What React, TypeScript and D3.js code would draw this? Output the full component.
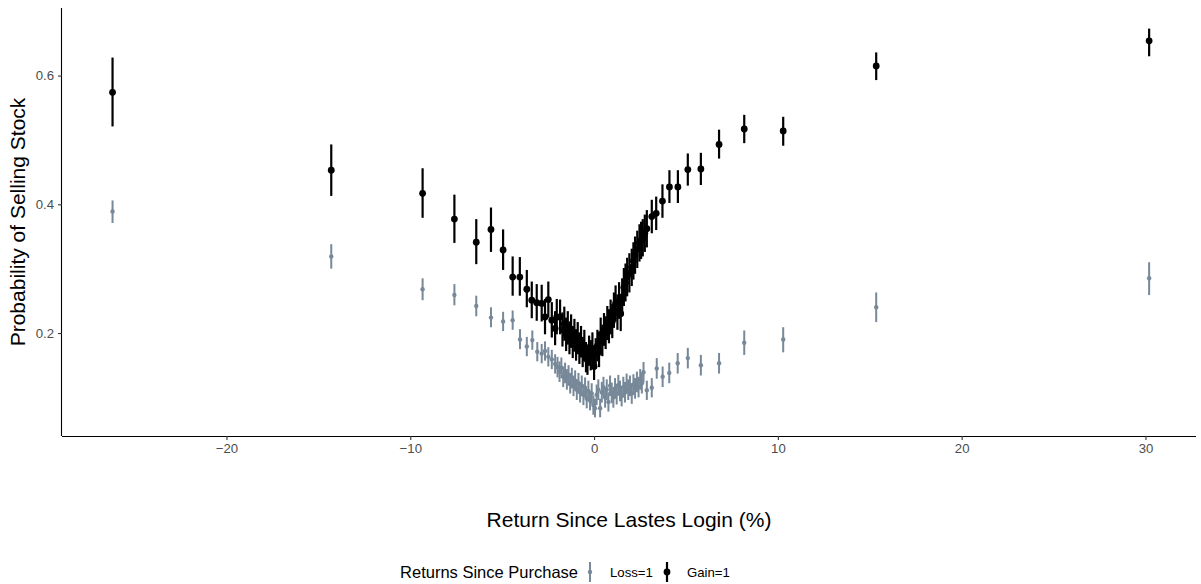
import { useEffect, useRef } from 'react';
import * as d3 from 'd3';

// each row: [return since last login (%), probability, lower, upper]
const lossRows: number[][] = [
  [-26.2, 0.389, 0.371, 0.406],
  [-14.3, 0.319, 0.300, 0.338],
  [-9.33, 0.268, 0.251, 0.285],
  [-7.60, 0.259, 0.243, 0.276],
  [-6.41, 0.242, 0.226, 0.258],
  [-5.61, 0.224, 0.209, 0.240],
  [-4.95, 0.218, 0.203, 0.233],
  [-4.43, 0.220, 0.205, 0.235],
  [-4.03, 0.190, 0.175, 0.206],
  [-3.66, 0.179, 0.164, 0.194],
  [-3.36, 0.189, 0.174, 0.204],
  [-3.09, 0.171, 0.156, 0.186],
  [-2.85, 0.168, 0.153, 0.183],
  [-2.67, 0.172, 0.157, 0.187],
  [-2.49, 0.163, 0.148, 0.178],
  [-2.30, 0.159, 0.144, 0.174],
  [-2.12, 0.152, 0.137, 0.167],
  [-1.99, 0.147, 0.131, 0.163],
  [-1.88, 0.140, 0.124, 0.156],
  [-1.78, 0.146, 0.130, 0.162],
  [-1.68, 0.132, 0.116, 0.148],
  [-1.58, 0.138, 0.122, 0.154],
  [-1.48, 0.128, 0.112, 0.144],
  [-1.39, 0.134, 0.118, 0.150],
  [-1.30, 0.122, 0.106, 0.138],
  [-1.21, 0.130, 0.114, 0.146],
  [-1.12, 0.118, 0.102, 0.134],
  [-1.03, 0.126, 0.110, 0.142],
  [-0.94, 0.112, 0.096, 0.128],
  [-0.85, 0.122, 0.106, 0.138],
  [-0.76, 0.108, 0.092, 0.124],
  [-0.67, 0.118, 0.102, 0.134],
  [-0.58, 0.104, 0.088, 0.120],
  [-0.49, 0.115, 0.099, 0.131],
  [-0.40, 0.098, 0.083, 0.113],
  [-0.31, 0.110, 0.094, 0.126],
  [-0.22, 0.095, 0.080, 0.110],
  [-0.13, 0.106, 0.090, 0.122],
  [-0.04, 0.088, 0.073, 0.103],
  [0.05, 0.083, 0.069, 0.098],
  [0.14, 0.104, 0.088, 0.120],
  [0.23, 0.112, 0.096, 0.128],
  [0.33, 0.083, 0.069, 0.098],
  [0.42, 0.108, 0.092, 0.124],
  [0.51, 0.116, 0.100, 0.132],
  [0.60, 0.100, 0.084, 0.116],
  [0.69, 0.112, 0.096, 0.128],
  [0.78, 0.093, 0.078, 0.108],
  [0.87, 0.118, 0.102, 0.134],
  [0.96, 0.107, 0.091, 0.123],
  [1.05, 0.100, 0.084, 0.116],
  [1.14, 0.114, 0.098, 0.130],
  [1.23, 0.105, 0.089, 0.121],
  [1.32, 0.119, 0.103, 0.135],
  [1.41, 0.110, 0.094, 0.126],
  [1.50, 0.102, 0.086, 0.118],
  [1.59, 0.116, 0.100, 0.132],
  [1.68, 0.108, 0.092, 0.124],
  [1.77, 0.121, 0.105, 0.137],
  [1.86, 0.112, 0.096, 0.128],
  [1.95, 0.118, 0.102, 0.134],
  [2.05, 0.106, 0.090, 0.122],
  [2.14, 0.120, 0.104, 0.136],
  [2.23, 0.114, 0.098, 0.130],
  [2.33, 0.124, 0.108, 0.140],
  [2.42, 0.116, 0.100, 0.132],
  [2.51, 0.128, 0.112, 0.144],
  [2.60, 0.122, 0.106, 0.138],
  [2.69, 0.139, 0.123, 0.155],
  [2.87, 0.111, 0.096, 0.126],
  [3.14, 0.115, 0.100, 0.130],
  [3.41, 0.145, 0.129, 0.161],
  [3.73, 0.132, 0.116, 0.148],
  [4.09, 0.138, 0.122, 0.154],
  [4.55, 0.153, 0.137, 0.169],
  [5.10, 0.161, 0.145, 0.177],
  [5.81, 0.150, 0.134, 0.166],
  [6.80, 0.153, 0.137, 0.169],
  [8.17, 0.185, 0.166, 0.204],
  [10.29, 0.190, 0.170, 0.209],
  [15.35, 0.240, 0.217, 0.263],
  [30.2, 0.285, 0.259, 0.310],
];

const gainRows: number[][] = [
  [-26.2, 0.574, 0.521, 0.628],
  [-14.3, 0.453, 0.413, 0.493],
  [-9.33, 0.417, 0.379, 0.456],
  [-7.60, 0.377, 0.340, 0.415],
  [-6.41, 0.341, 0.307, 0.377],
  [-5.61, 0.361, 0.326, 0.395],
  [-4.95, 0.329, 0.298, 0.361],
  [-4.43, 0.287, 0.258, 0.319],
  [-4.04, 0.287, 0.258, 0.318],
  [-3.66, 0.268, 0.240, 0.298],
  [-3.39, 0.251, 0.223, 0.280],
  [-3.12, 0.247, 0.219, 0.276],
  [-2.85, 0.246, 0.218, 0.275],
  [-2.67, 0.225, 0.198, 0.253],
  [-2.49, 0.252, 0.224, 0.280],
  [-2.30, 0.220, 0.193, 0.248],
  [-2.12, 0.207, 0.181, 0.234],
  [-2.03, 0.225, 0.198, 0.253],
  [-1.85, 0.225, 0.198, 0.252],
  [-1.72, 0.205, 0.179, 0.232],
  [-1.62, 0.214, 0.188, 0.241],
  [-1.52, 0.198, 0.172, 0.224],
  [-1.43, 0.208, 0.182, 0.234],
  [-1.34, 0.192, 0.167, 0.218],
  [-1.25, 0.203, 0.177, 0.229],
  [-1.16, 0.186, 0.161, 0.211],
  [-1.07, 0.196, 0.171, 0.222],
  [-0.98, 0.181, 0.157, 0.206],
  [-0.89, 0.192, 0.167, 0.217],
  [-0.80, 0.176, 0.152, 0.201],
  [-0.71, 0.186, 0.162, 0.211],
  [-0.62, 0.170, 0.147, 0.194],
  [-0.53, 0.180, 0.156, 0.205],
  [-0.44, 0.162, 0.139, 0.186],
  [-0.36, 0.158, 0.135, 0.182],
  [-0.27, 0.172, 0.149, 0.196],
  [-0.18, 0.165, 0.142, 0.189],
  [-0.09, 0.176, 0.152, 0.201],
  [0.00, 0.148, 0.127, 0.171],
  [0.09, 0.168, 0.145, 0.192],
  [0.18, 0.180, 0.156, 0.205],
  [0.27, 0.170, 0.147, 0.194],
  [0.36, 0.198, 0.173, 0.224],
  [0.45, 0.188, 0.164, 0.213],
  [0.54, 0.205, 0.180, 0.231],
  [0.63, 0.200, 0.175, 0.226],
  [0.72, 0.215, 0.189, 0.242],
  [0.81, 0.210, 0.184, 0.237],
  [0.90, 0.225, 0.198, 0.252],
  [0.99, 0.218, 0.192, 0.245],
  [1.08, 0.235, 0.208, 0.263],
  [1.17, 0.246, 0.218, 0.274],
  [1.27, 0.232, 0.205, 0.260],
  [1.36, 0.250, 0.222, 0.279],
  [1.45, 0.230, 0.203, 0.258],
  [1.53, 0.256, 0.228, 0.285],
  [1.62, 0.271, 0.242, 0.301],
  [1.71, 0.278, 0.249, 0.308],
  [1.80, 0.287, 0.257, 0.317],
  [1.92, 0.293, 0.263, 0.324],
  [2.05, 0.302, 0.273, 0.331],
  [2.14, 0.312, 0.283, 0.341],
  [2.23, 0.321, 0.292, 0.350],
  [2.35, 0.330, 0.301, 0.359],
  [2.47, 0.340, 0.311, 0.369],
  [2.56, 0.344, 0.315, 0.373],
  [2.65, 0.348, 0.319, 0.377],
  [2.76, 0.355, 0.326, 0.384],
  [2.87, 0.362, 0.333, 0.391],
  [3.14, 0.381, 0.355, 0.407],
  [3.38, 0.386, 0.360, 0.412],
  [3.72, 0.405, 0.379, 0.431],
  [4.10, 0.427, 0.402, 0.453],
  [4.56, 0.427, 0.402, 0.453],
  [5.10, 0.454, 0.429, 0.479],
  [5.81, 0.455, 0.430, 0.480],
  [6.80, 0.493, 0.471, 0.516],
  [8.17, 0.517, 0.495, 0.539],
  [10.29, 0.514, 0.491, 0.536],
  [15.35, 0.615, 0.593, 0.636],
  [30.2, 0.654, 0.630, 0.673],
];

const xTicks = [-20, -10, 0, 10, 20, 30];
const yTicks = [0.2, 0.4, 0.6];
const groupLabels = ['Loss=1', 'Gain=1'];
const groupColors = ['#778899', '#000000'];

const W = 1201;
const H = 584;
const FONT = '"Liberation Sans", Arial, Helvetica, sans-serif';

const App = () => {
  const svgRef = useRef<SVGSVGElement | null>(null);

  useEffect(() => {
    if (!svgRef.current) return;
    const svg = d3.select(svgRef.current);
    svg.selectAll('*').remove();

    const panel = { left: 62, right: 1196, top: 8, bottom: 436 };

    const x = d3.scaleLinear().domain([-28.95, 32.75]).range([panel.left, panel.right]);
    const y = d3.scaleLinear().domain([0.04, 0.705]).range([panel.bottom, panel.top]);

    // series: loss first, gain drawn on top
    const series = [lossRows, gainRows];
    const radius = [2.2, 3.4];
    const barWidth = [2, 2.2];

    series.forEach((rows, i) => {
      const g = svg.append('g');
      g.selectAll('line')
        .data(rows)
        .join('line')
        .attr('x1', d => x(d[0]))
        .attr('x2', d => x(d[0]))
        .attr('y1', d => y(d[2]))
        .attr('y2', d => y(d[3]))
        .attr('stroke', groupColors[i])
        .attr('stroke-width', barWidth[i]);
      g.selectAll('circle')
        .data(rows)
        .join('circle')
        .attr('cx', d => x(d[0]))
        .attr('cy', d => y(d[1]))
        .attr('r', radius[i])
        .attr('fill', groupColors[i]);
    });

    // axes
    const xAxis = d3.axisBottom(x).tickValues(xTicks).tickSize(4).tickPadding(4)
      .tickFormat(d => d3.format('')(d as number).replace('-', '\u2212'));
    const yAxis = d3.axisLeft(y).tickValues(yTicks).tickSize(4).tickPadding(4)
      .tickFormat(d3.format('.1f'));

    const gx = svg.append('g')
      .attr('transform', `translate(0,${panel.bottom})`)
      .call(xAxis);
    const gy = svg.append('g')
      .attr('transform', `translate(${panel.left},0)`)
      .call(yAxis);

    [gx, gy].forEach(g => {
      g.select('.domain').attr('stroke', '#000').attr('stroke-width', 1.1);
      g.selectAll('.tick line').attr('stroke', '#333').attr('stroke-width', 1.1);
      g.selectAll('.tick text')
        .attr('fill', '#4D4D4D')
        .attr('font-size', 13.2)
        .attr('font-family', FONT);
    });
    gx.select('.domain').attr('d', `M${panel.left},0.5H${panel.right}`);
    gy.select('.domain').attr('d', `M-0.5,${panel.bottom}V${panel.top}`);

    // axis titles
    svg.append('text')
      .attr('x', (panel.left + panel.right) / 2)
      .attr('y', 527)
      .attr('text-anchor', 'middle')
      .attr('font-family', FONT)
      .attr('font-size', 21)
      .text('Return Since Lastes Login (%)');

    svg.append('text')
      .attr('transform', `translate(25,${(panel.top + panel.bottom) / 2}) rotate(-90)`)
      .attr('text-anchor', 'middle')
      .attr('font-family', FONT)
      .attr('font-size', 21)
      .text('Probability of Selling Stock');

    // legend
    const ly = 572;
    const legend = svg.append('g').attr('font-family', FONT);
    legend.append('text')
      .attr('x', 578)
      .attr('y', ly + 6)
      .attr('text-anchor', 'end')
      .attr('font-size', 16.5)
      .text('Returns Since Purchase');

    const keyX = [590, 667];
    groupLabels.forEach((label, i) => {
      const k = legend.append('g').attr('transform', `translate(${keyX[i]},${ly})`);
      k.append('line')
        .attr('y1', -10)
        .attr('y2', 10)
        .attr('stroke', groupColors[i])
        .attr('stroke-width', barWidth[i]);
      k.append('circle').attr('r', radius[i]).attr('fill', groupColors[i]);
      k.append('text')
        .attr('x', 20)
        .attr('y', 5)
        .attr('font-size', 13.2)
        .text(label);
    });
  }, []);

  return (
    <div style={{ position: 'absolute', left: 0, top: 0 }}>
      <svg ref={svgRef} width={W} height={H} style={{ display: 'block', background: '#fff' }} />
    </div>
  );
};

export default App;
